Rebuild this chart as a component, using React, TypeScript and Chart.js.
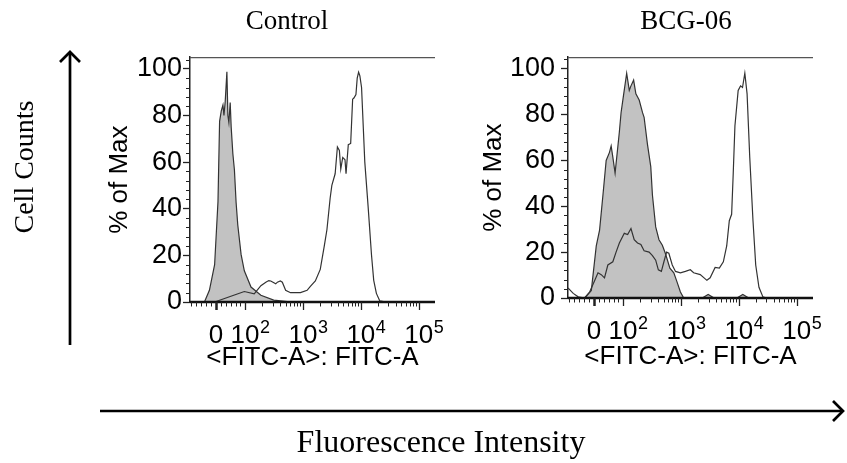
import React, { useEffect, useRef } from "react";
import { Chart, registerables } from "chart.js";

Chart.register(...registerables);

// X values are positions on the biexponential FITC-A display axis:
// 1.5 = 0, 2 = 10^2, 3 = 10^3, 4 = 10^4, 5 = 10^5
const xMin = 1.05;
const xMax = 5.28;
const xMajorTicks = [1.5, 2, 3, 4, 5];
const xMajorBase = ["0", "10", "10", "10", "10"];
const xMajorExp = ["", "2", "3", "4", "5"];
const xMinorTicks = [
  1.07, 1.15, 1.24, 1.32, 1.41, 1.59, 1.67, 1.76, 1.84, 1.92,
  2.301, 2.477, 2.602, 2.699, 2.778, 2.845, 2.903, 2.954,
  3.301, 3.477, 3.602, 3.699, 3.778, 3.845, 3.903, 3.954,
  4.301, 4.477, 4.602, 4.699, 4.778, 4.845, 4.903, 4.954,
];
const yMin = 0;
const yMax = 105;
const yMajorStep = 20;
const yMinorStep = 4;

const xAxisTitle = "<FITC-A>: FITC-A";
const yAxisTitle = "% of Max";
const panelTitles = ["Control", "BCG-06"];

// Control panel
const controlIsoX = [1.299, 1.385, 1.475, 1.533, 1.561, 1.59, 1.619, 1.636, 1.658, 1.687, 1.704, 1.721, 1.744, 1.761, 1.79, 1.817, 1.846, 1.875, 1.932, 1.988, 2.103, 2.274, 2.496, 2.73, 2.838];
const controlIsoY = [0, 5, 16, 43, 77.5, 82, 84.5, 80, 86, 98.7, 80, 77, 85.6, 75, 63.6, 56.6, 42.7, 33, 20.4, 13.4, 6.4, 2.9, 0.8, 0.2, 0];
const controlStainX = [1.475, 1.646, 1.817, 1.988, 2.159, 2.274, 2.359, 2.41, 2.444, 2.53, 2.559, 2.61, 2.644, 2.701, 2.786, 2.957, 3.072, 3.128, 3.214, 3.299, 3.368, 3.414, 3.47, 3.499, 3.556, 3.595, 3.629, 3.653, 3.687, 3.726, 3.744, 3.783, 3.824, 3.858, 3.88, 3.915, 3.937, 3.961, 3.983, 4.012, 4.068, 4.125, 4.183, 4.222, 4.268, 4.325, 4.439];
const controlStainY = [0, 1.5, 3, 4.5, 3.5, 7, 8.5, 9.2, 9, 7.8, 8.5, 9, 8.5, 5, 4, 4, 5, 6.7, 9, 14, 24, 31, 44.6, 50, 55, 66.5, 65, 57, 62, 61, 55, 67.5, 68, 87, 87.5, 89, 96, 98.6, 97, 92, 60, 41, 20.4, 9.3, 3.7, 0.5, 0];

// BCG-06 panel
const bcgIsoX = [1.338, 1.453, 1.538, 1.595, 1.653, 1.709, 1.766, 1.795, 1.824, 1.863, 1.909, 1.937, 1.966, 2.012, 2.063, 2.108, 2.137, 2.183, 2.222, 2.279, 2.337, 2.364, 2.422, 2.479, 2.508, 2.564, 2.621, 2.679, 2.735, 2.809, 2.877, 2.935, 2.991, 3.048, 3.368, 3.47, 3.573, 3.966, 4.068, 4.171];
const bcgIsoY = [0, 3.3, 22.7, 29.6, 44.8, 60, 63.5, 66.3, 61.4, 54.5, 65.6, 72.5, 80.8, 89, 98, 90.5, 92.5, 95, 89, 86.3, 80.8, 78.8, 67, 57.3, 44.8, 31, 25.4, 23, 19.2, 13, 11, 6.8, 2.6, 0, 0, 1.5, 0, 0, 1.5, 0];
const bcgStainX = [1.05, 1.14, 1.226, 1.338, 1.424, 1.509, 1.568, 1.624, 1.68, 1.738, 1.824, 1.88, 1.937, 2.022, 2.08, 2.137, 2.193, 2.251, 2.308, 2.364, 2.45, 2.508, 2.564, 2.61, 2.662, 2.706, 2.752, 2.791, 2.85, 2.906, 2.991, 3.077, 3.162, 3.219, 3.333, 3.448, 3.504, 3.59, 3.663, 3.732, 3.79, 3.835, 3.875, 3.903, 3.932, 3.988, 4.029, 4.063, 4.103, 4.142, 4.188, 4.244, 4.291, 4.347, 4.415, 4.474];
const bcgStainY = [4.4, 2, 0.5, 0, 2.6, 7.5, 11, 10.2, 8.8, 14.4, 15.8, 20, 24, 28.2, 27.7, 30.3, 25.4, 24, 23.3, 20.6, 20, 18.5, 16.5, 12.3, 11.6, 15.8, 20, 19.5, 14.4, 11.6, 11, 11.6, 12.3, 11, 10.2, 7.7, 8.8, 13.3, 13, 15.8, 22.7, 33.7, 36.5, 54.5, 75, 90.5, 92.5, 91.8, 98, 89, 61.4, 33.7, 14.4, 4.7, 0.5, 0];

const SANS = "'Liberation Sans', Arial, sans-serif";
const SERIF = "'Liberation Serif', 'Times New Roman', serif";
const LINE = "#333333";
const FILL = "#c2c2c2";

const toPoints = (xs: number[], ys: number[]) => xs.map((x, i) => ({ x, y: ys[i] }));

const flowAxesPlugin = {
  id: "flowAxes",
  afterDraw(chart: any) {
    const { ctx, chartArea, scales } = chart;
    const { left, right, top, bottom } = chartArea;
    const x = scales.x;
    const y = scales.y;
    ctx.save();
    // top frame line
    ctx.strokeStyle = "#555";
    ctx.lineWidth = 1.2;
    ctx.beginPath();
    ctx.moveTo(left, top + 0.5);
    ctx.lineTo(right, top + 0.5);
    ctx.stroke();
    // x axis line
    ctx.strokeStyle = "#111";
    ctx.lineWidth = 2.5;
    ctx.beginPath();
    ctx.moveTo(left - 0.5, bottom);
    ctx.lineTo(right, bottom);
    ctx.stroke();
    // minor x ticks
    ctx.lineWidth = 1;
    ctx.strokeStyle = "#222";
    for (const v of xMinorTicks) {
      const px = Math.round(x.getPixelForValue(v)) + 0.5;
      if (px < left || px > right) continue;
      ctx.beginPath();
      ctx.moveTo(px, bottom);
      ctx.lineTo(px, bottom + 4.5);
      ctx.stroke();
    }
    // major x ticks
    xMajorTicks.forEach((v, i) => {
      const px = Math.round(x.getPixelForValue(v)) + 0.5;
      ctx.lineWidth = i === 0 ? 2.5 : 1.3;
      ctx.beginPath();
      ctx.moveTo(px, bottom);
      ctx.lineTo(px, bottom + 8);
      ctx.stroke();
    });
    // x tick labels with superscripts
    ctx.fillStyle = "#000";
    ctx.textBaseline = "alphabetic";
    ctx.textAlign = "left";
    const baseY = bottom + 41;
    xMajorTicks.forEach((v, i) => {
      const px = x.getPixelForValue(v);
      ctx.font = `26px ${SANS}`;
      const w = ctx.measureText(xMajorBase[i]).width;
      const sx = px - w / 2;
      ctx.fillText(xMajorBase[i], sx, baseY);
      if (xMajorExp[i]) {
        ctx.font = `18px ${SANS}`;
        ctx.fillText(xMajorExp[i], sx + w + 0.5, baseY - 10);
      }
    });
    // minor y ticks
    ctx.strokeStyle = "#222";
    ctx.lineWidth = 1;
    for (let v = yMin + yMinorStep; v <= yMax; v += yMinorStep) {
      if (v % yMajorStep === 0) continue;
      const py = Math.round(y.getPixelForValue(v)) + 0.5;
      ctx.beginPath();
      ctx.moveTo(left - 4, py);
      ctx.lineTo(left, py);
      ctx.stroke();
    }
    ctx.restore();
  },
};

type PanelProps = {
  left: number;
  top: number;
  width: number;
  height: number;
  isoX: number[];
  isoY: number[];
  stainX: number[];
  stainY: number[];
  yTitlePad: number;
  yTickPad: number;
  xTitlePad: number;
};

function Panel(p: PanelProps) {
  const ref = useRef<HTMLCanvasElement>(null);
  useEffect(() => {
    const chart = new Chart(ref.current as HTMLCanvasElement, {
      type: "line",
      data: {
        datasets: [
          {
            label: "stained",
            data: toPoints(p.stainX, p.stainY),
            borderColor: LINE,
            borderWidth: 1.2,
            fill: false,
            pointRadius: 0,
            tension: 0,
          },
          {
            label: "isotype",
            data: toPoints(p.isoX, p.isoY),
            borderColor: LINE,
            borderWidth: 1.2,
            backgroundColor: FILL,
            fill: "origin",
            pointRadius: 0,
            tension: 0,
          },
        ],
      },
      options: {
        animation: false,
        responsive: false,
        maintainAspectRatio: false,
        events: [],
        layout: { padding: { top: 11, right: 10, left: 0, bottom: 0 } },
        plugins: { legend: { display: false }, tooltip: { enabled: false } },
        scales: {
          x: {
            type: "linear",
            min: xMin,
            max: xMax,
            grid: { display: false },
            border: { display: false },
            ticks: { display: false },
            title: {
              display: true,
              text: xAxisTitle,
              color: "#000",
              font: { family: SANS, size: 26 },
              padding: { top: 0, bottom: p.xTitlePad },
            },
            afterFit: (s: any) => {
              s.height = 78;
            },
          },
          y: {
            type: "linear",
            min: yMin,
            max: yMax,
            ticks: {
              stepSize: yMajorStep,
              includeBounds: false,
              color: "#000",
              font: { family: SANS, size: 27 },
              padding: p.yTickPad,
            },
            grid: {
              drawOnChartArea: false,
              drawTicks: true,
              tickLength: 7,
              tickColor: "#222",
              tickWidth: 1.3,
            },
            border: { display: true, color: "#222", width: 1.5 },
            title: {
              display: true,
              text: yAxisTitle,
              color: "#000",
              font: { family: SANS, size: 26 },
              padding: { top: p.yTitlePad, bottom: 0 },
            },
            afterFit: (s: any) => {
              s.width = 90;
            },
          },
        },
      } as any,
      plugins: [flowAxesPlugin],
    });
    return () => chart.destroy();
  }, []);
  return (
    <canvas
      ref={ref}
      width={p.width}
      height={p.height}
      style={{ position: "absolute", left: p.left, top: p.top, width: p.width, height: p.height }}
    />
  );
}

export default function App() {
  return (
    <div style={{ position: "absolute", left: 0, top: 0, width: 847, height: 463, background: "#fff", overflow: "hidden" }}>
      <Panel
        left={100}
        top={40}
        width={345}
        height={340}
        isoX={controlIsoX}
        isoY={controlIsoY}
        stainX={controlStainX}
        stainY={controlStainY}
        yTitlePad={4}
        yTickPad={1}
        xTitlePad={7}
      />
      <Panel
        left={478}
        top={35}
        width={345}
        height={341}
        isoX={bcgIsoX}
        isoY={bcgIsoY}
        stainX={bcgStainX}
        stainY={bcgStainY}
        yTitlePad={0}
        yTickPad={6}
        xTitlePad={4}
      />
      <svg
        width={847}
        height={463}
        style={{ position: "absolute", left: 0, top: 0, pointerEvents: "none" }}
      >
        <text x={287} y={29} textAnchor="middle" fontFamily={SERIF} fontSize={27} fill="#000">
          {panelTitles[0]}
        </text>
        <text x={686} y={29} textAnchor="middle" fontFamily={SERIF} fontSize={27} fill="#000">
          {panelTitles[1]}
        </text>
        <text
          transform="translate(33,167) rotate(-90)"
          textAnchor="middle"
          fontFamily={SERIF}
          fontSize={28}
          fill="#000"
        >
          Cell Counts
        </text>
        <line x1={70} y1={345} x2={70} y2={53} stroke="#000" strokeWidth={2.7} />
        <polyline points="60,62 70,52 80,62" fill="none" stroke="#000" strokeWidth={2.7} />
        <line x1={100} y1={411} x2={842} y2={411} stroke="#000" strokeWidth={2.7} />
        <polyline points="833,401 843,411 833,421" fill="none" stroke="#000" strokeWidth={2.7} />
        <text x={441} y={452} textAnchor="middle" fontFamily={SERIF} fontSize={32} fill="#000">
          Fluorescence Intensity
        </text>
      </svg>
    </div>
  );
}
